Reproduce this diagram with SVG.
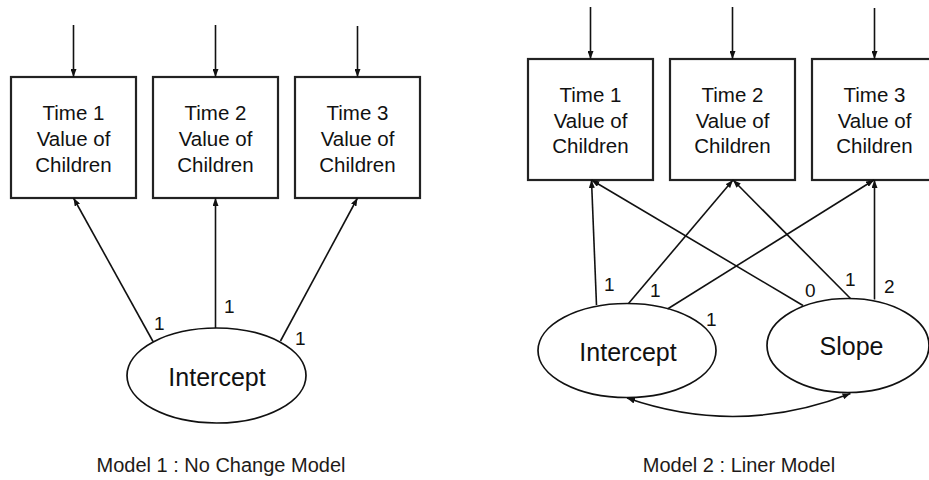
<svg xmlns="http://www.w3.org/2000/svg" width="929" height="480" viewBox="0 0 929 480">
  <defs>
    <marker id="arrow" viewBox="0 0 8 6" refX="8" refY="3" markerWidth="8" markerHeight="6" markerUnits="userSpaceOnUse" orient="auto-start-reverse">
      <path d="M0,0 L8,3 L0,6 z" fill="#111"/>
    </marker>
  </defs>
  <style>
    .box { fill: #fff; stroke: #222; stroke-width: 2.2; }
    .oval { fill: #fff; stroke: #111; stroke-width: 1.7; }
    .edge { fill: none; stroke: #111; stroke-width: 1.6; }
    .lbl { font-family: "Liberation Sans", Arial, sans-serif; fill: #111; }
    .bt { font-size: 20.5px; text-anchor: middle; }
    .ot { font-size: 25px; text-anchor: middle; }
    .num { font-size: 19px; }
    .cap { font-size: 20px; text-anchor: middle; fill: #1e1a18; }
  </style>
  <rect width="929" height="480" fill="#fff"/>

  <!-- Model 1: no change model -->
  <g id="m1-time1">
    <rect class="box" x="11" y="77" width="125" height="121"/>
    <text class="lbl bt" x="73.5" y="120">Time 1</text>
    <text class="lbl bt" x="73.5" y="146">Value of</text>
    <text class="lbl bt" x="73.5" y="172">Children</text>
  </g>
  <g id="m1-time2">
    <rect class="box" x="153" y="77" width="125" height="121"/>
    <text class="lbl bt" x="215.5" y="120">Time 2</text>
    <text class="lbl bt" x="215.5" y="146">Value of</text>
    <text class="lbl bt" x="215.5" y="172">Children</text>
  </g>
  <g id="m1-time3">
    <rect class="box" x="295" y="77" width="125" height="121"/>
    <text class="lbl bt" x="357.5" y="120">Time 3</text>
    <text class="lbl bt" x="357.5" y="146">Value of</text>
    <text class="lbl bt" x="357.5" y="172">Children</text>
  </g>
  <g id="m1-intercept">
    <ellipse class="oval" cx="216.5" cy="375.5" rx="89.5" ry="47.5"/>
    <text class="lbl ot" x="217" y="386">Intercept</text>
  </g>

  <!-- Model 2: linear model -->
  <g id="m2-time1">
    <rect class="box" x="528" y="59" width="125" height="121"/>
    <text class="lbl bt" x="590.5" y="102">Time 1</text>
    <text class="lbl bt" x="590.5" y="128">Value of</text>
    <text class="lbl bt" x="590.5" y="153">Children</text>
  </g>
  <g id="m2-time2">
    <rect class="box" x="670" y="59" width="125" height="121"/>
    <text class="lbl bt" x="732.5" y="102">Time 2</text>
    <text class="lbl bt" x="732.5" y="128">Value of</text>
    <text class="lbl bt" x="732.5" y="153">Children</text>
  </g>
  <g id="m2-time3">
    <rect class="box" x="812" y="59" width="125" height="121"/>
    <text class="lbl bt" x="874.5" y="102">Time 3</text>
    <text class="lbl bt" x="874.5" y="128">Value of</text>
    <text class="lbl bt" x="874.5" y="153">Children</text>
  </g>
  <g id="m2-intercept">
    <ellipse class="oval" cx="627" cy="350.5" rx="89" ry="47"/>
    <text class="lbl ot" x="628" y="361">Intercept</text>
  </g>
  <g id="m2-slope">
    <ellipse class="oval" cx="848" cy="345.5" rx="81" ry="47"/>
    <text class="lbl ot" x="851.5" y="355">Slope</text>
  </g>

  <g id="connectors">
    <!-- residual arrows, model 1 -->
    <line class="edge" x1="73.5" y1="25" x2="73.5" y2="77" marker-end="url(#arrow)"/>
    <line class="edge" x1="215.5" y1="25" x2="215.5" y2="77" marker-end="url(#arrow)"/>
    <line class="edge" x1="357.5" y1="26" x2="357.5" y2="77" marker-end="url(#arrow)"/>
    <!-- loadings, model 1 -->
    <line class="edge" x1="153" y1="341.5" x2="73.5" y2="198" marker-end="url(#arrow)"/>
    <line class="edge" x1="215.5" y1="328" x2="215.5" y2="198" marker-end="url(#arrow)"/>
    <line class="edge" x1="280.5" y1="341" x2="357.5" y2="198" marker-end="url(#arrow)"/>

    <!-- residual arrows, model 2 -->
    <line class="edge" x1="590.5" y1="7" x2="590.5" y2="59" marker-end="url(#arrow)"/>
    <line class="edge" x1="732.5" y1="7" x2="732.5" y2="59" marker-end="url(#arrow)"/>
    <line class="edge" x1="874.5" y1="8" x2="874.5" y2="59" marker-end="url(#arrow)"/>
    <!-- intercept loadings, model 2 -->
    <line class="edge" x1="596.5" y1="305" x2="591.5" y2="180" marker-end="url(#arrow)"/>
    <line class="edge" x1="628.5" y1="303.5" x2="733" y2="180" marker-end="url(#arrow)"/>
    <line class="edge" x1="667.5" y1="309" x2="874" y2="180" marker-end="url(#arrow)"/>
    <!-- slope loadings, model 2 -->
    <line class="edge" x1="803" y1="305.5" x2="591.5" y2="180" marker-end="url(#arrow)"/>
    <line class="edge" x1="850.5" y1="298.5" x2="733" y2="180" marker-end="url(#arrow)"/>
    <line class="edge" x1="874.5" y1="299.5" x2="874.5" y2="180" marker-end="url(#arrow)"/>
    <!-- covariance between intercept and slope -->
    <path class="edge" d="M627,398 Q739,437 850.5,393.5" marker-start="url(#arrow)" marker-end="url(#arrow)"/>
  </g>

  <!-- path weights -->
  <g id="weights">
    <text class="lbl num" x="154" y="330">1</text>
    <text class="lbl num" x="224" y="313">1</text>
    <text class="lbl num" x="295" y="345">1</text>
    <text class="lbl num" x="604" y="291">1</text>
    <text class="lbl num" x="650" y="297">1</text>
    <text class="lbl num" x="706" y="326">1</text>
    <text class="lbl num" x="805" y="297">0</text>
    <text class="lbl num" x="845" y="286">1</text>
    <text class="lbl num" x="884" y="293">2</text>
  </g>

  <!-- captions -->
  <text id="cap1" class="lbl cap" x="221" y="472">Model 1 : No Change Model</text>
  <text id="cap2" class="lbl cap" x="739" y="472">Model 2 : Liner Model</text>
</svg>
